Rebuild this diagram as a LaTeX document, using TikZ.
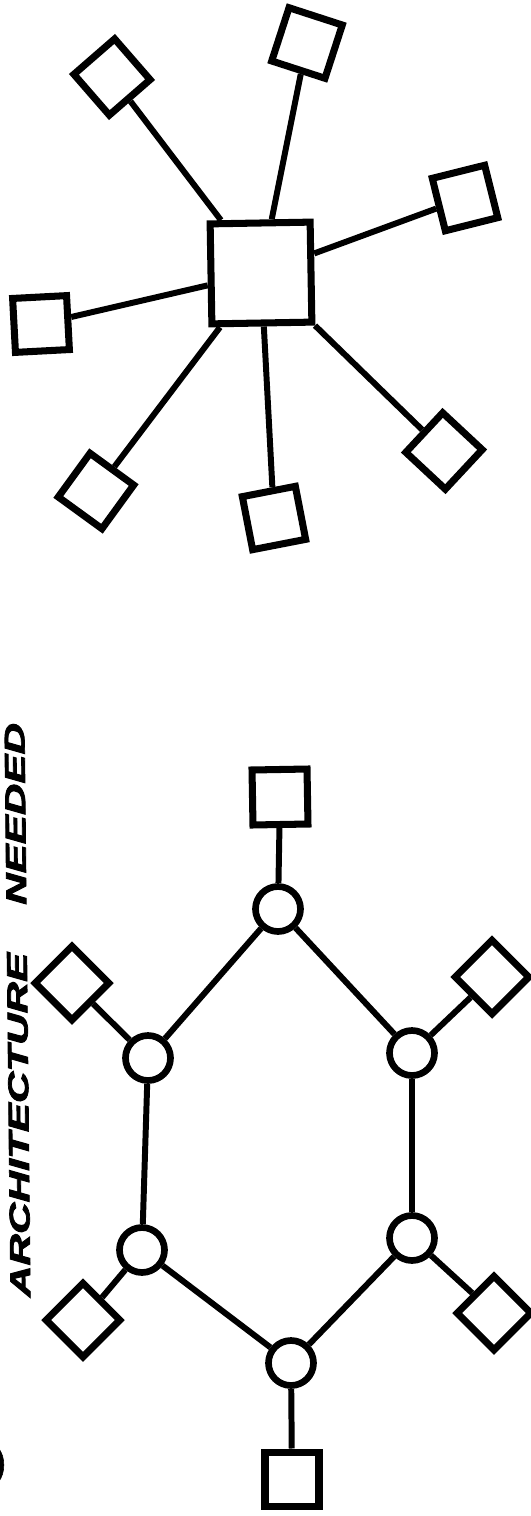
\documentclass[tikz,border=0pt]{standalone}
\usepackage{graphicx}
\usepackage{fontspec}
\newfontfamily\capfont[BoldItalicFeatures={FakeBold=2.5},BoldFeatures={FakeBold=1.5}]{Liberation Sans}
\tikzset{
  term/.style={draw,rectangle,line width=4pt,minimum size=10.8mm,inner sep=0pt},
  hubbox/.style={draw,rectangle,line width=4pt,minimum size=20mm,inner sep=0pt},
  tap/.style={draw,circle,line width=3.8pt,minimum size=9mm,inner sep=0pt},
  wire/.style={line width=3.4pt}
}
\begin{document}
\begin{tikzpicture}[x=0.2mm,y=-0.2mm]
\useasboundingbox (0,0) rectangle (531,1516);

\node[hubbox,rotate=1] (hub) at (261,273) {};
\node[term,rotate=41] (s1) at (112,77) {};
\node[term,rotate=-18,minimum size=11.2mm] (s2) at (307,43) {};
\node[term,rotate=14] (s3) at (465,198) {};
\node[term,rotate=3] (s4) at (41,324) {};
\node[term,rotate=-36] (s5) at (96,491) {};
\node[term,rotate=11] (s6) at (274,518) {};
\node[term,rotate=47] (s7) at (444,451) {};

\foreach \s in {s1,s2,s3,s4,s5,s6,s7}
  \draw[wire] (\s) -- (hub);

\node[tap] (rtop) at (278,909) {};
\node[tap] (rur) at (412,1053) {};
\node[tap] (rlr) at (412,1238) {};
\node[tap] (rbot) at (291,1363) {};
\node[tap] (rll) at (142,1250) {};
\node[tap] (rul) at (148,1058) {};

\node[term,rotate=1,minimum size=11mm] (ttop) at (280,797) {};
\node[term,rotate=45,minimum size=10.4mm] (tur) at (492,977) {};
\node[term,rotate=45,minimum size=10.4mm] (tlr) at (494,1313) {};
\node[term,minimum size=10.8mm] (tbot) at (292,1479) {};
\node[term,rotate=45,minimum size=10.4mm] (tll) at (83,1320) {};
\node[term,rotate=45,minimum size=10.4mm] (tul) at (72,983) {};

\draw[wire] (rtop) -- (rur) -- (rlr) -- (rbot) -- (rll) -- (rul) -- (rtop);
\draw[wire] (rtop) -- (ttop);
\draw[wire] (rur) -- (tur);
\draw[wire] (rlr) -- (tlr);
\draw[wire] (rbot) -- (tbot);
\draw[wire] (rll) -- (tll);
\draw[wire] (rul) -- (tul);

\node[rotate=90.6,inner sep=0pt] (caption) at (17.5,1010)
  {\resizebox{114.8mm}{4mm}{\capfont\bfseries\itshape ARCHITECTURE\hspace{1.1em}NEEDED}};
\node[anchor=east,inner sep=0pt] (cut) at (6,1465)
  {\capfont\bfseries\fontsize{21}{21}\selectfont )};
\end{tikzpicture}
\end{document}
